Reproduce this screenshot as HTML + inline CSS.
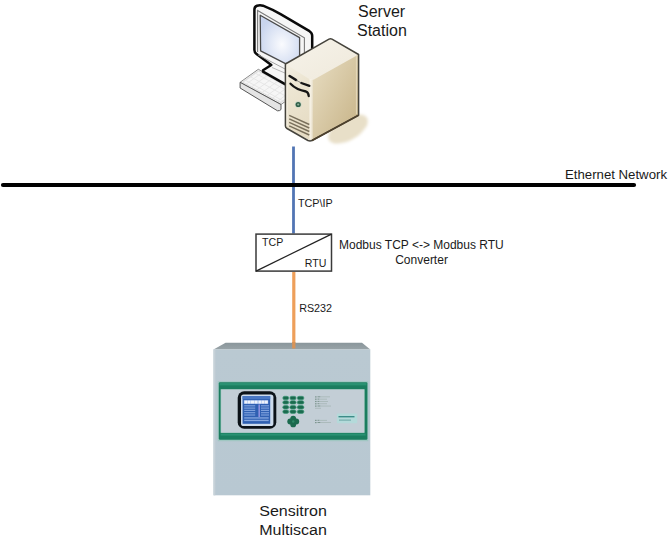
<!DOCTYPE html>
<html><head><meta charset="utf-8">
<style>
html,body{margin:0;padding:0;background:#fff;width:668px;height:540px;overflow:hidden}
svg{position:absolute;left:0;top:0}
text{font-family:"Liberation Sans",sans-serif;fill:#1a1a1a}
</style></head>
<body>
<svg width="668" height="540" viewBox="0 0 668 540">
<defs>
  <linearGradient id="topband" x1="0" y1="0" x2="0" y2="1">
    <stop offset="0" stop-color="#8a969b"/>
    <stop offset="1" stop-color="#98a3a7"/>
  </linearGradient>
  <linearGradient id="body" x1="0" y1="0" x2="0" y2="1">
    <stop offset="0" stop-color="#bac9d2"/>
    <stop offset="1" stop-color="#b8c8d2"/>
  </linearGradient>
  <filter id="blur2" x="-50%" y="-50%" width="200%" height="200%"><feGaussianBlur stdDeviation="1.8"/></filter>
  <radialGradient id="scr" cx="0.55" cy="0.6" r="0.6">
    <stop offset="0" stop-color="#fafbfe"/>
    <stop offset="1" stop-color="#c9d5ee"/>
  </radialGradient>
  <linearGradient id="tfront" x1="0" y1="0" x2="0.3" y2="1">
    <stop offset="0" stop-color="#f3efe3"/>
    <stop offset="0.35" stop-color="#ede6d3"/>
    <stop offset="1" stop-color="#e6dcc4"/>
  </linearGradient>
  <linearGradient id="tside" x1="0" y1="0.15" x2="1" y2="0.85">
    <stop offset="0" stop-color="#f0eadc"/>
    <stop offset="0.4" stop-color="#e2d6b8"/>
    <stop offset="0.95" stop-color="#cbb88e"/>
    <stop offset="1" stop-color="#d8c9a6"/>
  </linearGradient>
  <linearGradient id="ttop" x1="0" y1="0" x2="1" y2="1">
    <stop offset="0" stop-color="#f6f3ea"/>
    <stop offset="1" stop-color="#efe9db"/>
  </linearGradient>
  <radialGradient id="shadow" cx="0.5" cy="0.5" r="0.5">
    <stop offset="0" stop-color="#e0d4b6"/>
    <stop offset="0.6" stop-color="#e6dcc6"/>
    <stop offset="1" stop-color="#f4efe4" stop-opacity="0.3"/>
  </radialGradient>
</defs>

<!-- ===== Computer ===== -->
<!-- shadow -->
<ellipse cx="348" cy="129" rx="22" ry="11" transform="rotate(-30 348 129)" fill="#e8dfc8" filter="url(#blur2)"/>
<!-- keyboard -->
<path d="M240.1,82.3 L258.3,69.3 L299.2,91.5 L281,104.5 Z" fill="#f6f6f6" stroke="#8a8a8a" stroke-width="1" stroke-linejoin="round"/>
<path d="M242.5,82.3 L258.4,71 L296.5,91.6 L280.8,102.6 Z" fill="none" stroke="#dedede" stroke-width="1.2"/>
<g stroke="#e4e4e4" stroke-width="0.9" fill="none">
<path d="M245,85 L263,72 M250,88 L268,75 M255,91 L273,78 M260,94 L278,81 M265,97 L283,84 M270,100 L288,87 M275,103 L293,90"/>
<path d="M245,80 L286,102.5 M250,76.5 L291,99 M255,73 L296,95.5"/>
</g>
<path d="M240.1,82.3 L281,104.5 L281,109.5 Q280,111 277.5,110.8 L240.1,88 Z" fill="#e4e4e4" stroke="#555" stroke-width="1" stroke-linejoin="round"/>
<!-- monitor outer -->
<path d="M254.4,50 L254.4,9.6 Q254.4,6.6 257,5.7 Q260,4.8 263,5.7 Q272,9.3 281,14.4 L309.5,31.2 Q312.2,33 312.2,35.8 L312.2,95 L285,84.2 L263,71.6 L263,70.2 L271.3,65 L256.5,54 Q254.4,52.4 254.4,50 Z" fill="#f6f6f6" stroke="#0a0a0a" stroke-width="2.5" stroke-linejoin="round"/>
<!-- bezel inner lines -->
<path d="M257.6,52 L257.6,10.5 L304.4,37.8 L304.4,60" fill="none" stroke="#7a7a7a" stroke-width="1.1"/>
<path d="M258,54.8 L286,69.5" fill="none" stroke="#9a9a9a" stroke-width="0.9"/>
<path d="M272,67.5 L286,73.5" fill="none" stroke="#a8a8a8" stroke-width="0.8"/>
<!-- screen -->
<path d="M260.2,15.2 L299.6,37.6 L299.6,62 L285.5,63.6 L260.6,50.9 Z" fill="url(#scr)" stroke="#4a4a4a" stroke-width="1.3" stroke-linejoin="round"/>

<!-- tower -->
<path d="M285.4,64 L329,39.2 Q330.5,38.4 332,39.2 L358.6,54.5 L358.6,115.2 L312,140.5 L287,128.5 Q285.4,127.6 285.4,126 Z" fill="url(#tside)"/>
<path d="M285.4,64 L313,79 L313,140.5 L310,140.3 L287,128.5 Q285.4,127.6 285.4,126 Z" fill="url(#tfront)"/>
<path d="M285.4,64 L329,39.2 Q330.5,38.4 332,39.2 L358.6,54.5 L314,79.5 Q312,80.5 310,79.4 Z" fill="url(#ttop)"/>
<path d="M310.5,79 L310.5,139.5" stroke="#f7f2e6" stroke-width="2.2" opacity="0.9"/>
<path d="M356.5,56 L356.5,114" stroke="#e8dcc0" stroke-width="1.2" opacity="0.8"/>
<path d="M287,66 L287,126" stroke="#f6f1e4" stroke-width="1.4" opacity="0.8"/>
<path d="M285.4,64 L329,39.2 Q330.5,38.4 332,39.2 L358.6,54.5 L358.6,115.2 L312,140.5 Q310,141.3 308,140.5 L287,128.5 Q285.4,127.6 285.4,126 Z" fill="none" stroke="#45433c" stroke-width="1.5" stroke-linejoin="round"/>
<path d="M358.6,115.2 L312,140.5" stroke="#4e412c" stroke-width="1.6"/>
<!-- drive bays -->
<path d="M289.6,76 Q293,78 296,80" fill="none" stroke="#151515" stroke-width="2.6" stroke-linecap="round"/>
<path d="M301.3,83 Q305.5,84.5 309.4,85.9" fill="none" stroke="#151515" stroke-width="2.2" stroke-linecap="round"/>
<path d="M296,80 Q298.5,81.5 301.3,83" fill="none" stroke="#555" stroke-width="0.8"/>
<path d="M290.5,83.7 Q296,89.5 306,91.5 Q308.5,92.5 308.7,96" fill="none" stroke="#151515" stroke-width="2.3" stroke-linecap="round"/>
<!-- power button -->
<circle cx="298.2" cy="104.5" r="3.3" fill="#c9d6c6"/><circle cx="298.2" cy="104.5" r="2.6" fill="#2f5f48"/>
<circle cx="298.2" cy="104.5" r="1.1" fill="#8fb09a"/>
<!-- vents -->
<path d="M289.2,115.3 L309.3,124.5 M289.2,118.8 L309.3,128 M289.2,122.3 L309.3,131.5 M289.2,125.8 L309.3,135" fill="none" stroke="#7a705c" stroke-width="1.4"/>

<!-- ===== Lines ===== -->
<line x1="293.5" y1="146.5" x2="293.5" y2="233.5" stroke="#5275b4" stroke-width="2.8"/>
<line x1="3" y1="185" x2="634" y2="185" stroke="#000" stroke-width="4.2" stroke-linecap="round"/>
<line x1="293.8" y1="272" x2="293.8" y2="343" stroke="#ee9f5a" stroke-width="3.2"/>

<!-- converter box -->
<rect x="256" y="234.1" width="75.5" height="37" fill="#fff" stroke="#3a3a3a" stroke-width="1.5"/>
<line x1="256" y1="271.1" x2="331.5" y2="234.1" stroke="#222" stroke-width="1.2"/>

<!-- ===== Multiscan device ===== -->
<path d="M213.5,349.4 L225.6,342.8 L362,342.8 L370.3,349.4 Z" fill="url(#topband)"/>
<line x1="293.8" y1="342" x2="293.8" y2="348.5" stroke="#d99356" stroke-width="3.2"/>
<rect x="213.5" y="349.4" width="156.8" height="145.9" fill="url(#body)"/>
<rect x="213.5" y="349.4" width="1.8" height="145.9" fill="#c6d1d8"/>
<!-- green panel -->
<rect x="217.8" y="381.2" width="150.4" height="60" fill="#8fc6b8" opacity="0.6"/>
<rect x="218.8" y="382.2" width="148.6" height="57.6" rx="1.2" fill="#1b7d5f"/>
<rect x="219.5" y="383" width="147" height="2.4" fill="#2a9172"/>
<rect x="220.6" y="433.6" width="145" height="2" fill="#2a9172"/>
<rect x="220.6" y="389.2" width="144" height="43.6" fill="#9cc9bd"/>
<rect x="221.2" y="389.6" width="143" height="43" fill="#c3ced6"/>
<!-- LCD -->
<rect x="237.7" y="391.3" width="38.6" height="37.4" rx="6.5" fill="#0c1218"/>
<rect x="241" y="394.6" width="32.4" height="31.4" rx="2.6" fill="#cddbec"/>
<rect x="242.6" y="396.1" width="27.6" height="27.7" fill="#2f60b2"/>
<rect x="242.6" y="396.1" width="27.6" height="3" fill="#4a78c4"/>
<rect x="243.8" y="400.2" width="24.4" height="3.7" fill="#9fb8ea"/>
<rect x="244.5" y="400.6" width="3" height="2.9" fill="#eef3fb"/>
<rect x="248" y="400.6" width="2.5" height="2.9" fill="#eef3fb"/>
<rect x="251" y="400.6" width="3.5" height="2.9" fill="#eef3fb"/>
<rect x="255" y="400.6" width="2.5" height="2.9" fill="#eef3fb"/>
<rect x="258.5" y="400.6" width="3" height="2.9" fill="#eef3fb"/>
<rect x="262" y="400.6" width="2.5" height="2.9" fill="#eef3fb"/>
<rect x="265" y="400.6" width="2.8" height="2.9" fill="#eef3fb"/>
<rect x="244.2" y="405.2" width="11" height="1.2" fill="#7da0dc"/>
<rect x="261" y="405.2" width="8" height="1.2" fill="#7da0dc"/>
<rect x="244.2" y="407.5" width="11" height="1.2" fill="#7da0dc"/>
<rect x="261" y="407.5" width="8" height="1.2" fill="#7da0dc"/>
<rect x="244.2" y="409.8" width="11" height="1.2" fill="#7da0dc"/>
<rect x="261" y="409.8" width="8" height="1.2" fill="#7da0dc"/>
<rect x="244.2" y="412.1" width="11" height="1.2" fill="#7da0dc"/>
<rect x="261" y="412.1" width="8" height="1.2" fill="#7da0dc"/>
<rect x="244.2" y="414.4" width="11" height="1.2" fill="#7da0dc"/>
<rect x="261" y="414.4" width="8" height="1.2" fill="#7da0dc"/>
<rect x="244.2" y="417.3" width="24.5" height="1.3" fill="#87a8e0"/>
<rect x="244.2" y="419.8" width="24.5" height="1.3" fill="#87a8e0"/>
<rect x="258.4" y="404.5" width="1.6" height="12.5" fill="#8c90e0"/>
<!-- keypad -->
<g fill="#1b6a4e" stroke="#3d9a78" stroke-width="0.7">
<rect x="282.8" y="396.3" width="5.9" height="3.4" rx="1.7"/><rect x="289.9" y="396.3" width="6.2" height="3.4" rx="1.7"/><rect x="297.3" y="396.3" width="6.6" height="3.4" rx="1.7"/>
<rect x="282.8" y="400.7" width="5.9" height="3.4" rx="1.7"/><rect x="289.9" y="400.7" width="6.2" height="3.4" rx="1.7"/><rect x="297.3" y="400.7" width="6.6" height="3.4" rx="1.7"/>
<rect x="282.8" y="405.6" width="5.9" height="3.4" rx="1.7"/><rect x="289.9" y="405.6" width="6.2" height="3.4" rx="1.7"/><rect x="297.3" y="405.6" width="6.6" height="3.4" rx="1.7"/>
<rect x="282.8" y="410" width="5.9" height="3.4" rx="1.7"/><rect x="289.9" y="410" width="6.2" height="3.4" rx="1.7"/><rect x="297.3" y="410" width="6.6" height="3.4" rx="1.7"/>
</g>
<!-- d-pad -->
<g fill="#1b6a4e">
<circle cx="293.2" cy="418.6" r="2.9"/><circle cx="293.2" cy="424.4" r="2.9"/>
<circle cx="290.2" cy="421.5" r="2.9"/><circle cx="296.3" cy="421.5" r="2.9"/>
</g>
<circle cx="293.2" cy="421.5" r="1.2" fill="#2f8a68"/>
<!-- legends -->
<g fill="#7e9690">
<rect x="315" y="396.3" width="1.6" height="1.2"/><rect x="317.5" y="396.3" width="3" height="1"/>
<rect x="315" y="398.6" width="1.6" height="1.2"/><rect x="317.5" y="398.6" width="2" height="1"/>
<rect x="315" y="400.9" width="1.6" height="1.2"/><rect x="317.5" y="400.9" width="2" height="1"/>
<rect x="315" y="403.2" width="1.6" height="1.2"/><rect x="317.5" y="403.2" width="2" height="1"/>
<rect x="315" y="405.5" width="1.6" height="1.2"/><rect x="317.5" y="405.5" width="3" height="1"/>
<rect x="315" y="419.8" width="1.6" height="1.2"/><rect x="317.5" y="419.8" width="2" height="1"/>
<rect x="315" y="422" width="1.6" height="1.2"/><rect x="317.5" y="422" width="3" height="1"/>
</g>
<g fill="#a9b8b8">
<rect x="321" y="396.4" width="9" height="0.9"/><rect x="320" y="398.7" width="7" height="0.9"/>
<rect x="320" y="401" width="8" height="0.9"/><rect x="320" y="403.3" width="7" height="0.9"/>
<rect x="321" y="405.6" width="10" height="0.9"/><rect x="315" y="407.8" width="6" height="0.9"/>
<rect x="320" y="419.9" width="7" height="0.9"/><rect x="321" y="422.1" width="10" height="0.9"/>
</g>
<rect x="336.9" y="413.6" width="20.3" height="9.7" rx="1" fill="#b4dada"/>
<rect x="338.5" y="416" width="16" height="1.4" fill="#3c8c88"/>
<rect x="339" y="419.6" width="12" height="1" fill="#6aa6a4"/>

<!-- ===== Text ===== -->
<text x="358" y="17" font-size="16">Server</text>
<text x="357" y="35.6" font-size="16">Station</text>
<text x="565" y="178.7" font-size="12" textLength="102" lengthAdjust="spacingAndGlyphs">Ethernet Network</text>
<text x="297.9" y="206.6" font-size="10.8">TCP\IP</text>
<text x="262.1" y="245.6" font-size="10.6">TCP</text>
<text x="304.8" y="266.7" font-size="10.6">RTU</text>
<text x="339" y="249.1" font-size="12">Modbus TCP &lt;-&gt; Modbus RTU</text>
<text x="395.2" y="263.5" font-size="12">Converter</text>
<text x="299.2" y="312.4" font-size="10.75">RS232</text>
<text transform="translate(259.2 515.9) scale(1.07 1)" font-size="15">Sensitron</text>
<text transform="translate(259.2 534.6) scale(1.07 1)" font-size="15">Multiscan</text>
</svg>
</body></html>
